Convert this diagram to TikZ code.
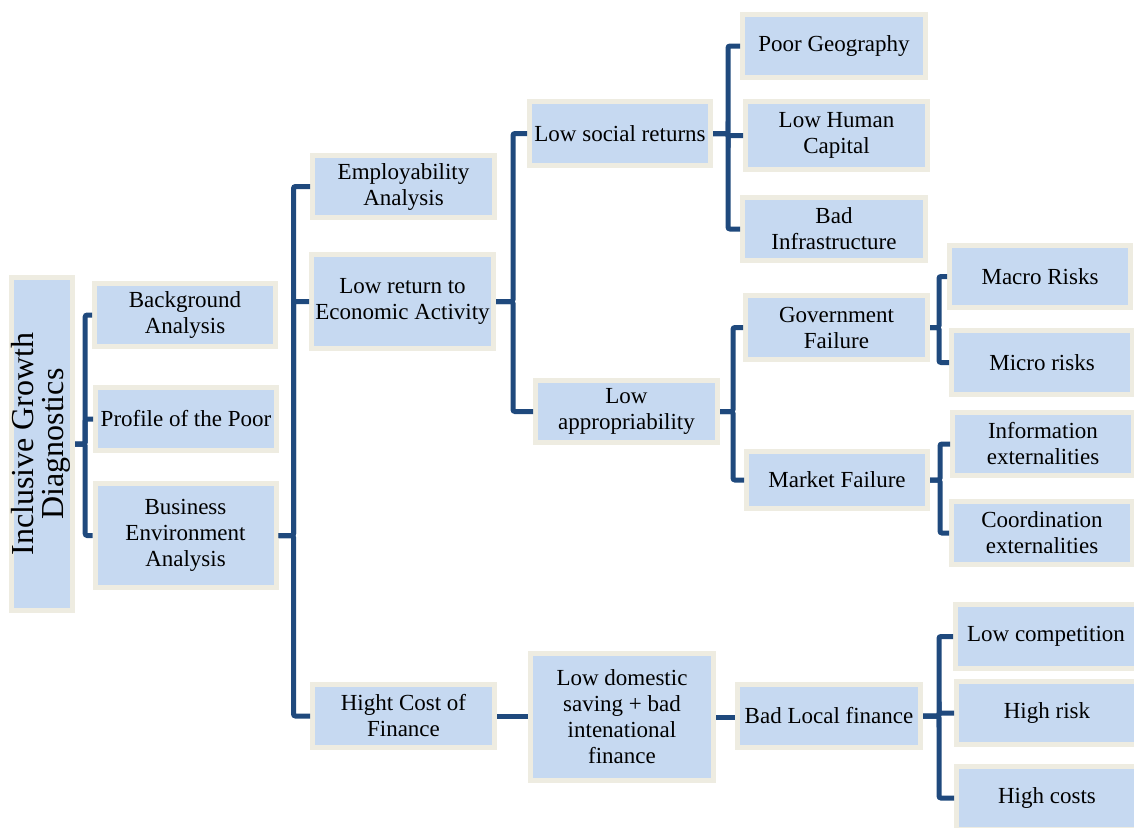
\documentclass[tikz,border=0pt]{standalone}
\usepackage{fontspec}
\setmainfont{Liberation Serif}
\usepackage{xcolor}
\usetikzlibrary{positioning,calc}

\definecolor{boxfill}{HTML}{C6D9F1}
\definecolor{boxline}{HTML}{EEECE1}
\definecolor{linkblue}{HTML}{1F497D}

\begin{document}
\begin{tikzpicture}[x=1pt, y=-1pt,
    box/.style={rectangle, draw=boxline, line width=5pt, fill=boxfill, align=center,
        inner sep=0pt, minimum width=181pt, minimum height=63pt,
        font=\fontsize{23}{26}\selectfont},
    link/.style={draw=linkblue, line width=5pt, rounded corners=2pt}]

    \useasboundingbox (0,0) rectangle (1134,827);

    % root and first level
    \node[box, minimum width=55pt, minimum height=333pt] (root) at (42,444)
        {\rotatebox{90}{\fontsize{32}{30}\selectfont\begin{tabular}{@{}c@{}}Inclusive Growth\\Diagnostics\end{tabular}}};
    \node[box] (bg) at (185,315) {Background\\Analysis};
    \node[box] (pp) at (186,419) {Profile of the Poor};
    \node[box, minimum height=104pt] (be) at (185.5,535.5) {Business\\Environment\\Analysis};

    % second level
    \node[box, minimum width=182pt, minimum height=62pt] (emp) at (403.5,186.5) {Employability\\Analysis};
    \node[box, minimum width=182pt, minimum height=94pt] (lr) at (402.5,301.5) {Low return to\\Economic Activity};
    \node[box, minimum width=182pt] (hc) at (403.5,716) {Hight Cost of\\Finance};

    % third level
    \node[box, minimum height=64pt] (ls) at (620,133.5) {Low social returns};
    \node[box, minimum width=182pt, minimum height=62pt] (la) at (626.5,411.5) {Low\\appropriability};
    \node[box, minimum width=183pt, minimum height=127pt] (ld) at (622,717) {Low domestic\\saving + bad\\intenational\\finance};

    % fourth level
    \node[box, minimum width=183pt] (pg) at (834,46) {Poor Geography};
    \node[box, minimum width=182pt, minimum height=68pt] (hcap) at (836.5,135.5) {Low Human\\Capital};
    \node[box, minimum width=183pt] (bi) at (834,229) {Bad\\Infrastructure};
    \node[box, minimum width=182pt, minimum height=64pt] (gf) at (836.5,327.5) {Government\\Failure};
    \node[box, minimum height=57pt] (mf) at (837,480) {Market Failure};
    \node[box, minimum width=183pt] (bl) at (829,716) {Bad Local finance};

    % fifth level
    \node[box, minimum height=62pt] (mr) at (1040,276.5) {Macro Risks};
    \node[box, minimum height=64pt] (mi) at (1042,362.5) {Micro risks};
    \node[box] (ie) at (1043,444) {Information\\externalities};
    \node[box] (ce) at (1042,533) {Coordination\\externalities};
    \node[box, minimum height=64pt] (lc) at (1046,636.5) {Low competition};
    \node[box] (hr) at (1047,713) {High risk};
    \node[box] (hco) at (1047,798) {High costs};

    % connectors
    \draw[link] (root.east) -- ++(10,0) |- (bg.west);
    \draw[link] (root.east) -- ++(10,0) |- (pp.west);
    \draw[link] (root.east) -- ++(10,0) |- (be.west);

    \draw[link] (be.east) -- ++(15,0) |- (emp.west);
    \draw[link] (be.east) -- ++(15,0) |- (lr.west);
    \draw[link] (be.east) -- ++(15,0) |- (hc.west);

    \draw[link] (lr.east) -- ++(17,0) |- (ls.west);
    \draw[link] (lr.east) -- ++(17,0) |- (la.west);

    \draw[link] (ls.east) -- ++(15,0) |- (pg.west);
    \draw[link] (ls.east) -- ++(15,0) |- (hcap.west);
    \draw[link] (ls.east) -- ++(15,0) |- (bi.west);

    \draw[link] (la.east) -- ++(13,0) |- (gf.west);
    \draw[link] (la.east) -- ++(13,0) |- (mf.west);

    \draw[link] (gf.east) -- ++(9,0) |- (mr.west);
    \draw[link] (gf.east) -- ++(9,0) |- (mi.west);

    \draw[link] (mf.east) -- ++(10,0) |- (ie.west);
    \draw[link] (mf.east) -- ++(10,0) |- (ce.west);

    \draw[link] (hc.east) -- (hc.east -| ld.west);
    \draw[link] (ld.east) -- (ld.east -| bl.west);

    \draw[link] (bl.east) -- ++(16,0) |- (lc.west);
    \draw[link] (bl.east) -- ++(16,0) |- (hr.west);
    \draw[link] (bl.east) -- ++(16,0) |- (hco.west);
\end{tikzpicture}
\end{document}
